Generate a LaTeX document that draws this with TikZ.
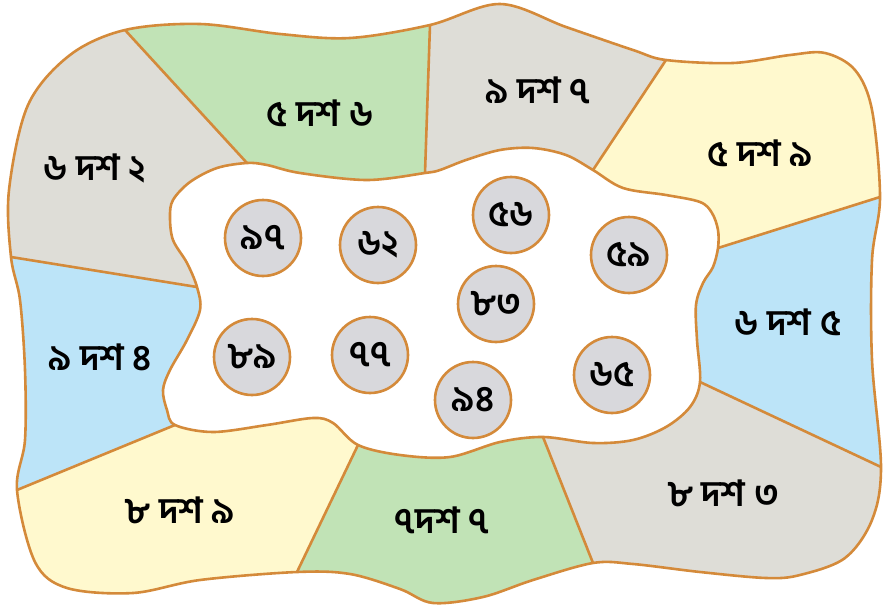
\documentclass[tikz,border=0pt]{standalone}
\usepackage{fontspec}
\setmainfont{Hind Siliguri}[Script=Bengali]
\usetikzlibrary{calc}
\definecolor{bordc}{RGB}{212,138,58}
\definecolor{grayc}{RGB}{222,221,215}
\definecolor{greenc}{RGB}{193,227,182}
\definecolor{yellowc}{RGB}{255,249,206}
\definecolor{bluec}{RGB}{188,228,248}
\definecolor{circc}{RGB}{216,216,220}
\begin{document}
\begin{tikzpicture}[x=1pt,y=-1pt,
  bord/.style={draw=bordc,line width=2.6pt,line join=round},
  lab/.style={font=\fontsize{36}{40}\selectfont\bfseries,inner sep=0pt},
  num/.style={circle,draw=bordc,line width=2.6pt,fill=circc,minimum size=76pt,inner sep=0pt,font=\fontsize{36}{40}\selectfont\bfseries}]
\useasboundingbox (0,0) rectangle (883,610);
\coordinate (C) at (450,310);
% outer divider ends
\coordinate (O1) at (125,30);
\coordinate (O2) at (430,25);
\coordinate (O3) at (666,60);
\coordinate (O4) at (880,197);
\coordinate (O5) at (881,467);
\coordinate (O6) at (593,563);
\coordinate (O7) at (297,572);
\coordinate (O8) at (17,490);
\coordinate (O9) at (11,257);
% inner divider ends
\coordinate (A1) at (247,163);
\coordinate (A2) at (425,173);
\coordinate (A3) at (593,170);
\coordinate (A4) at (718,248);
\coordinate (A5) at (700,382);
\coordinate (A6) at (543,437);
\coordinate (A7) at (358,445);
\coordinate (A8) at (175,425);
\coordinate (A9) at (197,287);
\def\outerpath{plot[smooth cycle,tension=0.55] coordinates {(O1) (200,24) (280,34) (350,38) (O2) (500,4) (566,27) (633,50) (O3) (733,63) (790,55) (825,53) (855,70) (872,110) (O4) (872,260) (872,360) (O5) (872,520) (845,558) (800,575) (766,578) (700,572) (633,564) (O6) (533,580) (483,597) (433,603) (400,589) (350,574) (O7) (200,580) (133,593) (67,588) (35,562) (O8) (25,440) (25,370) (20,300) (O9) (9,190) (28,105) (70,55)}}
\def\innerpath{plot[smooth cycle,tension=0.55] coordinates {(A1) (217,168) (190,182) (173,200) (170,217) (173,240) (187,263) (A9) (200,310) (187,340) (170,370) (163,390) (167,410) (A8) (213,432) (267,425) (313,418) (333,423) (A7) (400,455) (450,457) (500,442) (A6) (593,443) (633,440) (666,427) (690,407) (A5) (697,340) (696,305) (703,283) (713,267) (A4) (718,230) (712,213) (700,202) (666,195) (623,188) (A3) (566,155) (533,148) (500,150) (466,160) (440,170) (A2) (367,180) (300,173) (267,165)}}
\begin{scope}
\clip \outerpath;
\fill[grayc]   (C) -- (A9) -- ($(A9)!3!(O9)$) -- ($(A1)!3!(O1)$) -- (A1) -- cycle;
\fill[greenc]  (C) -- (A1) -- ($(A1)!3!(O1)$) -- ($(A2)!3!(O2)$) -- (A2) -- cycle;
\fill[grayc]   (C) -- (A2) -- ($(A2)!3!(O2)$) -- ($(A3)!3!(O3)$) -- (A3) -- cycle;
\fill[yellowc] (C) -- (A3) -- ($(A3)!3!(O3)$) -- ($(A4)!3!(O4)$) -- (A4) -- cycle;
\fill[bluec]   (C) -- (A4) -- ($(A4)!3!(O4)$) -- ($(A5)!3!(O5)$) -- (A5) -- cycle;
\fill[grayc]   (C) -- (A5) -- ($(A5)!3!(O5)$) -- ($(A6)!3!(O6)$) -- (A6) -- cycle;
\fill[greenc]  (C) -- (A6) -- ($(A6)!3!(O6)$) -- ($(A7)!3!(O7)$) -- (A7) -- cycle;
\fill[yellowc] (C) -- (A7) -- ($(A7)!3!(O7)$) -- ($(A8)!3!(O8)$) -- (A8) -- cycle;
\fill[bluec]   (C) -- (A8) -- ($(A8)!3!(O8)$) -- ($(A9)!3!(O9)$) -- (A9) -- cycle;
\end{scope}
\path[fill=white,bord] \innerpath;
\foreach \i in {1,...,9} {\draw[bord] (A\i) -- (O\i);}
\draw[bord] \outerpath;
% region labels
\node[lab] (r1) at (95,168) {৬ দশ ২};
\node[lab] (r2) at (320,113) {৫ দশ ৬};
\node[lab] (r3) at (538,90) {৯ দশ ৭};
\node[lab] (r4) at (760,153) {৫ দশ ৯};
\node[lab] (r5) at (788,322) {৬ দশ ৫};
\node[lab] (r6) at (723,493) {৮ দশ ৩};
\node[lab] (r7) at (442,520) {৭দশ ৭};
\node[lab] (r8) at (180,510) {৮ দশ ৯};
\node[lab] (r9) at (100,357) {৯ দশ ৪};
% circles
\node[num] (c97) at (263,238) {৯৭};
\node[num] (c62) at (378,245) {৬২};
\node[num] (c56) at (511,215) {৫৬};
\node[num] (c59) at (629,255) {৫৯};
\node[num] (c83) at (496,304) {৮৩};
\node[num] (c89) at (252,357) {৮৯};
\node[num] (c77) at (370,355) {৭৭};
\node[num] (c94) at (473,400) {৯৪};
\node[num] (c65) at (612,375) {৬৫};
\end{tikzpicture}
\end{document}
